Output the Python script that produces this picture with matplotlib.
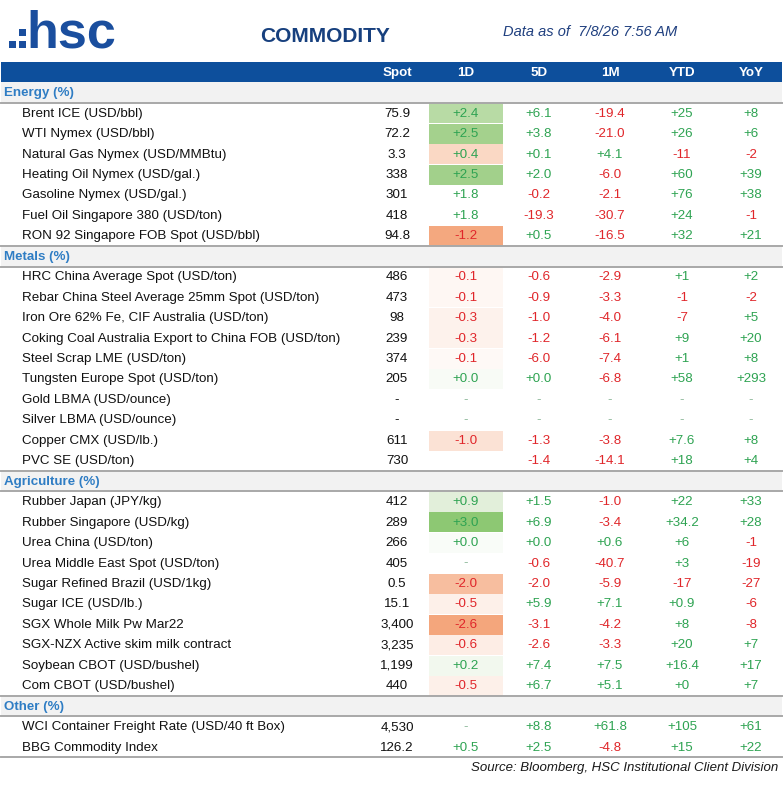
import matplotlib
matplotlib.use("Agg")
import matplotlib.pyplot as plt
from matplotlib.patches import Rectangle

# ---------------- data ----------------
columns = ["Spot", "1D", "5D", "1M", "YTD", "YoY"]
sections = ["Energy (%)", "Metals (%)", "Agriculture (%)", "Other (%)"]
section_sizes = [7, 10, 10, 2]

names = [
    "Brent ICE (USD/bbl)", "WTI Nymex (USD/bbl)", "Natural Gas Nymex (USD/MMBtu)",
    "Heating Oil Nymex (USD/gal.)", "Gasoline Nymex (USD/gal.)",
    "Fuel Oil Singapore 380 (USD/ton)", "RON 92 Singapore FOB Spot (USD/bbl)",
    "HRC China Average Spot (USD/ton)", "Rebar China Steel Average 25mm Spot (USD/ton)",
    "Iron Ore 62% Fe, CIF Australia (USD/ton)",
    "Coking Coal Australia Export to China FOB (USD/ton)", "Steel Scrap LME (USD/ton)",
    "Tungsten Europe Spot (USD/ton)", "Gold LBMA (USD/ounce)", "Silver LBMA (USD/ounce)",
    "Copper CMX (USD/lb.)", "PVC SE (USD/ton)",
    "Rubber Japan (JPY/kg)", "Rubber Singapore (USD/kg)", "Urea China (USD/ton)",
    "Urea Middle East Spot (USD/ton)", "Sugar Refined Brazil (USD/1kg)", "Sugar ICE (USD/lb.)",
    "SGX Whole Milk Pw Mar22", "SGX-NZX Active skim milk contract",
    "Soybean CBOT (USD/bushel)", "Com CBOT (USD/bushel)",
    "WCI Container Freight Rate (USD/40 ft Box)", "BBG Commodity Index",
]
spot = ["75.9", "72.2", "3.3", "338", "301", "418", "94.8",
        "486", "473", "98", "239", "374", "205", "-", "-", "611", "730",
        "412", "289", "266", "405", "0.5", "15.1", "3,400", "3,235", "1,199", "440",
        "4,530", "126.2"]
d1 = ["+2.4", "+2.5", "+0.4", "+2.5", "+1.8", "+1.8", "-1.2",
      "-0.1", "-0.1", "-0.3", "-0.3", "-0.1", "+0.0", "-", "-", "-1.0", "",
      "+0.9", "+3.0", "+0.0", "-", "-2.0", "-0.5", "-2.6", "-0.6", "+0.2", "-0.5",
      "-", "+0.5"]
d5 = ["+6.1", "+3.8", "+0.1", "+2.0", "-0.2", "-19.3", "+0.5",
      "-0.6", "-0.9", "-1.0", "-1.2", "-6.0", "+0.0", "-", "-", "-1.3", "-1.4",
      "+1.5", "+6.9", "+0.0", "-0.6", "-2.0", "+5.9", "-3.1", "-2.6", "+7.4", "+6.7",
      "+8.8", "+2.5"]
m1 = ["-19.4", "-21.0", "+4.1", "-6.0", "-2.1", "-30.7", "-16.5",
      "-2.9", "-3.3", "-4.0", "-6.1", "-7.4", "-6.8", "-", "-", "-3.8", "-14.1",
      "-1.0", "-3.4", "+0.6", "-40.7", "-5.9", "+7.1", "-4.2", "-3.3", "+7.5", "+5.1",
      "+61.8", "-4.8"]
ytd = ["+25", "+26", "-11", "+60", "+76", "+24", "+32",
       "+1", "-1", "-7", "+9", "+1", "+58", "-", "-", "+7.6", "+18",
       "+22", "+34.2", "+6", "+3", "-17", "+0.9", "+8", "+20", "+16.4", "+0",
       "+105", "+15"]
yoy = ["+8", "+6", "-2", "+39", "+38", "-1", "+21",
       "+2", "-2", "+5", "+20", "+8", "+293", "-", "-", "+8", "+4",
       "+33", "+28", "-1", "-19", "-27", "-6", "-8", "+7", "+17", "+7",
       "+61", "+22"]

# conditional-format fill of the 1D column (style)
fill_1d = ["#B8DBA5", "#A4D18D", "#FAD8C4", "#A2D08B", None, None, "#F4A87F",
           "#FEF7F3", "#FEF7F3", "#FDF2EC", "#FDF2EC", "#FEF9F6", "#F8FBF6", None, None,
           "#FBE2D5", None,
           "#E2EFDA", "#8DC873", "#F9FCF8", None, "#F7BE9F", "#FDF0E9", "#F4A67C",
           "#FDEDE5", "#F2F8EE", "#FDF0E9",
           None, None]

# ---------------- style ----------------
FONT = ["Liberation Sans", "DejaVu Sans"]
BLUE_BAR = "#0D4F9C"
SEC_BLUE = "#2F7DC4"
GREEN = "#2EA352"
RED = "#E0262A"
DASH = "#8DB89A"
LINE = "#A8A8A8"
SEC_BG = "#F2F2F2"

W, H = 784, 800
fig = plt.figure(figsize=(W / 100, H / 100), dpi=100)
ax = fig.add_axes([0, 0, 1, 1])
ax.set_xlim(0, W)
ax.set_ylim(H, 0)
ax.axis("off")

# ---- logo ----
logo_c = "#1A4E9E"
for (x, y) in [(9, 41), (19, 41), (19, 29)]:
    ax.add_patch(Rectangle((x, y), 7, 7, color=logo_c, lw=0))
ax.text(26, 48, "hsc", family=FONT, fontsize=37.5, fontweight="bold",
        color=logo_c, ha="left", va="baseline")

ax.text(325, 37, "COMMODITY", family=FONT, fontsize=15, fontweight="bold",
        color="#17407E", ha="center", va="center")
ax.text(503, 32, "Data as of  7/8/26 7:56 AM", family=FONT, fontsize=10.5,
        style="italic", color="#1F3F7F", ha="left", va="center")

# ---- table geometry ----
y0 = 62.0
rh = 20.45
col_x = [397, 466, 539, 610, 682, 751]
cell_w = 74
x_left, x_right = 1, 782
fs = 9.6

# header bar
ax.add_patch(Rectangle((x_left, y0), x_right - x_left, rh, color=BLUE_BAR, lw=0))
for cx, c in zip(col_x, columns):
    ax.text(cx, y0 + rh / 2 + 0.5, c, family=FONT, fontsize=fs, fontweight="bold",
            color="white", ha="center", va="center")

def val_color(s):
    if s.startswith("+"):
        return GREEN
    if s.startswith("-") and len(s) > 1:
        return RED
    return DASH

row = 1
k = 0
for si, (sec, n) in enumerate(zip(sections, section_sizes)):
    top = y0 + row * rh
    ax.add_patch(Rectangle((x_left, top), x_right - x_left, rh, color=SEC_BG, lw=0, zorder=0))
    if si > 0:
        ax.plot([x_left, x_right], [top, top], color=LINE, lw=1.4, zorder=2)
    ax.plot([x_left, x_right], [top + rh, top + rh], color=LINE, lw=1.4, zorder=2)
    ax.text(4, top + rh / 2 + 0.5, sec, family=FONT, fontsize=fs, fontweight="bold",
            color=SEC_BLUE, ha="left", va="center")
    row += 1
    for j in range(n):
        top = y0 + row * rh
        yc = top + rh / 2 + 0.5
        fc = fill_1d[k]
        if fc is not None:
            ax.add_patch(Rectangle((col_x[1] - cell_w / 2, top + 0.5), cell_w, rh - 0.5,
                                   color=fc, lw=0, zorder=1))
        ax.text(22, yc, names[k], family=FONT, fontsize=fs, color="#111111",
                ha="left", va="center", zorder=3)
        ax.text(col_x[0], yc, spot[k], family=FONT, fontsize=fs, color="#111111",
                ha="center", va="center", zorder=3)
        for cx, arr in zip(col_x[1:], [d1, d5, m1, ytd, yoy]):
            s = arr[k]
            if s:
                ax.text(cx, yc, s, family=FONT, fontsize=fs, color=val_color(s),
                        ha="center", va="center", zorder=3)
        row += 1
        k += 1

bottom = y0 + row * rh
ax.plot([x_left, x_right], [bottom, bottom], color=LINE, lw=1.4, zorder=2)

ax.text(778, bottom + 10.5, "Source: Bloomberg, HSC Institutional Client Division",
        family=FONT, fontsize=9.5, style="italic", color="#1A1A1A",
        ha="right", va="center")

fig.savefig("out.png", dpi=100)
